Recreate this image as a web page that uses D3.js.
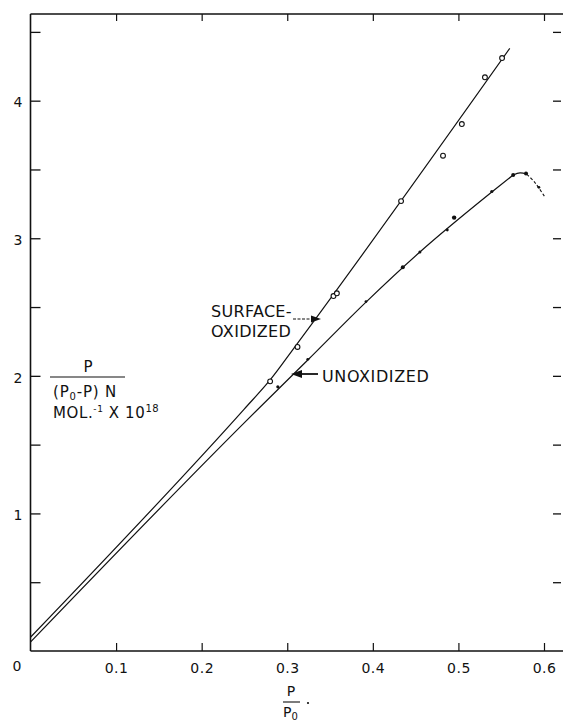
<!DOCTYPE html>
<html>
<head>
<meta charset="utf-8">
<script src="https://cdn.jsdelivr.net/npm/d3@7"></script>
<style>
  body { margin: 0; background: #fff; }
  svg { display: block; }
  text { font-family: "DejaVu Sans", sans-serif; fill: #111; }
</style>
</head>
<body>
<div id="chart"></div>
<script>
// Daten
const surfaceX = [0.280, 0.312, 0.354, 0.358, 0.433, 0.482, 0.504, 0.531, 0.551];
const surfaceY = [1.96, 2.21, 2.58, 2.60, 3.27, 3.60, 3.83, 4.17, 4.31];

const unoxX = [0.289, 0.324, 0.392, 0.435, 0.455, 0.487, 0.495, 0.539, 0.564, 0.579, 0.594];
const unoxY = [1.92, 2.12, 2.54, 2.79, 2.90, 3.06, 3.15, 3.34, 3.46, 3.47, 3.37];
const unoxSize = [1.6, 1.4, 1.4, 2.0, 1.5, 1.4, 2.2, 1.6, 2.0, 2.0, 1.4];

// Ausgleichskurven
const surfaceCurveX = [0, 0.250, 0.280, 0.310, 0.560];
const surfaceCurveY = [0.10, 1.76, 1.97, 2.22, 4.38];
const unoxCurveX = [0, 0.250, 0.324, 0.392, 0.455, 0.539, 0.564];
const unoxCurveY = [0.065, 1.66, 2.115, 2.536, 2.90, 3.336, 3.46];
const unoxTailX = [0.564, 0.572, 0.580, 0.590, 0.601];
const unoxTailY = [3.46, 3.475, 3.465, 3.40, 3.30];

const xTicks = [0.1, 0.2, 0.3, 0.4, 0.5, 0.6];
const yTicks = [0.5, 1, 1.5, 2, 2.5, 3, 3.5, 4, 4.5];

const breite = 563, hoehe = 726;

const svg = d3.select("#chart").append("svg")
  .attr("width", breite).attr("height", hoehe);

const x = d3.scaleLinear().domain([0, 0.6222]).range([30.5, 563]);
const y = d3.scaleLinear().domain([0, 4.63]).range([651, 14]);

// Rahmen
const frame = svg.append("g").attr("stroke", "#111").attr("fill", "none");
frame.append("line").attr("x1", x(0)).attr("x2", x(0)).attr("y1", y(4.63)).attr("y2", y(0)).attr("stroke-width", 1.6);
frame.append("line").attr("x1", x(0)).attr("x2", x(0.6222)).attr("y1", y(0)).attr("y2", y(0)).attr("stroke-width", 1.5);
frame.append("line").attr("x1", x(0)).attr("x2", x(0.6222)).attr("y1", y(4.63)).attr("y2", y(4.63)).attr("stroke-width", 1.6);

// Achsen
const xAxisG = svg.append("g").attr("transform", `translate(0,${y(0)})`)
  .call(d3.axisBottom(x).tickValues(xTicks).tickSizeInner(-8).tickSizeOuter(0).tickPadding(12)
    .tickFormat(d => d.toFixed(1)));
xAxisG.select(".domain").remove();
xAxisG.selectAll("line").attr("stroke", "#111").attr("stroke-width", 1.2);
xAxisG.selectAll("text").style("font-size", "14px").style("letter-spacing", "0.5px")
  .attr("font-family", null).attr("fill", "#111");

const xTopG = svg.append("g").attr("transform", `translate(0,${y(4.63)})`)
  .call(d3.axisTop(x).tickValues(xTicks).tickSizeInner(-7).tickSizeOuter(0).tickFormat(""));
xTopG.select(".domain").remove();
xTopG.selectAll("line").attr("stroke", "#111").attr("stroke-width", 1.2);

const yAxisG = svg.append("g").attr("transform", `translate(${x(0)},0)`)
  .call(d3.axisLeft(y).tickValues(yTicks).tickSizeInner(-10).tickSizeOuter(0).tickPadding(8)
    .tickFormat(d => Number.isInteger(d) ? d : ""));
yAxisG.select(".domain").remove();
yAxisG.selectAll("line").attr("stroke", "#111").attr("stroke-width", 1.3);
yAxisG.selectAll("text").style("font-size", "14px").attr("font-family", null).attr("fill", "#111")
  .attr("dy", "0.45em");

const yRightG = svg.append("g").attr("transform", `translate(${x(0.6222) - 2},0)`)
  .call(d3.axisRight(y).tickValues(yTicks).tickSizeInner(-8).tickSizeOuter(0).tickFormat(""));
yRightG.select(".domain").remove();
yRightG.selectAll("line").attr("stroke", "#111").attr("stroke-width", 1.3);

// Ursprung
svg.append("text").attr("x", 17).attr("y", y(0) + 20).attr("text-anchor", "middle")
  .style("font-size", "14px").text("0");

// Kurven
const line = d3.line().x(d => x(d[0])).y(d => y(d[1])).curve(d3.curveMonotoneX);

svg.append("path")
  .datum(d3.zip(surfaceCurveX, surfaceCurveY))
  .attr("d", line).attr("fill", "none").attr("stroke", "#111").attr("stroke-width", 1.2);

svg.append("path")
  .datum(d3.zip(unoxCurveX, unoxCurveY))
  .attr("d", line).attr("fill", "none").attr("stroke", "#111").attr("stroke-width", 1.2);

const tail = d3.zip(unoxTailX, unoxTailY);
const tailLine = d3.line().x(d => x(d[0])).y(d => y(d[1])).curve(d3.curveCardinal);
svg.append("path")
  .datum(tail.slice(0, 3))
  .attr("d", tailLine).attr("fill", "none").attr("stroke", "#111").attr("stroke-width", 1.2);
svg.append("path")
  .datum(tail.slice(2))
  .attr("d", tailLine).attr("fill", "none").attr("stroke", "#111").attr("stroke-width", 1.1)
  .attr("stroke-dasharray", "3,2");

// Punkte
svg.append("g").selectAll("circle")
  .data(d3.zip(surfaceX, surfaceY))
  .join("circle")
  .attr("cx", d => x(d[0])).attr("cy", d => y(d[1])).attr("r", 2.4)
  .attr("fill", "#fff").attr("stroke", "#111").attr("stroke-width", 1.1);

svg.append("g").selectAll("circle")
  .data(d3.zip(unoxX, unoxY, unoxSize))
  .join("circle")
  .attr("cx", d => x(d[0])).attr("cy", d => y(d[1])).attr("r", d => d[2])
  .attr("fill", "#111");

// Beschriftungen
const labelStyle = sel => sel.style("font-size", "16px").style("letter-spacing", "0.3px");

svg.append("text").attr("x", 211).attr("y", 317).call(labelStyle).text("SURFACE-");
svg.append("text").attr("x", 211).attr("y", 337).call(labelStyle).text("OXIDIZED");
svg.append("line").attr("x1", 293).attr("x2", 313).attr("y1", 319).attr("y2", 319)
  .attr("stroke", "#111").attr("stroke-width", 1.2).attr("stroke-dasharray", "3,1.5");
svg.append("path").attr("d", "M321,319 L311,315.5 L311,322.5 Z").attr("fill", "#111");

svg.append("text").attr("x", 322).attr("y", 382).call(labelStyle).style("letter-spacing", "0.6px").text("UNOXIDIZED");
svg.append("line").attr("x1", 300).attr("x2", 318).attr("y1", 374).attr("y2", 374)
  .attr("stroke", "#111").attr("stroke-width", 1.8);
svg.append("path").attr("d", "M291,374 L302,370 L302,378 Z").attr("fill", "#111");

// Y-Achsentitel
const yt = svg.append("g");
yt.append("text").attr("x", 88).attr("y", 372).attr("text-anchor", "middle")
  .style("font-size", "15px").text("P");
yt.append("line").attr("x1", 50).attr("x2", 125).attr("y1", 377).attr("y2", 377)
  .attr("stroke", "#111").attr("stroke-width", 1.2);
const t2 = yt.append("text").attr("x", 53).attr("y", 397).style("font-size", "15px").style("letter-spacing", "0.8px");
t2.append("tspan").text("(P");
t2.append("tspan").attr("dy", 3).style("font-size", "10px").text("0");
t2.append("tspan").attr("dy", -3).text("-P) N");
const t3 = yt.append("text").attr("x", 53).attr("y", 418).style("font-size", "15px").style("letter-spacing", "0.6px");
t3.append("tspan").text("MOL.");
t3.append("tspan").attr("dy", -6).style("font-size", "9px").text("-1");
t3.append("tspan").attr("dy", 6).text(" X 10");
t3.append("tspan").attr("dy", -6).style("font-size", "10px").text("18");

// X-Achsentitel
const xt = svg.append("g");
xt.append("text").attr("x", 291).attr("y", 696).attr("text-anchor", "middle")
  .style("font-size", "14px").text("P");
xt.append("line").attr("x1", 283).attr("x2", 300).attr("y1", 702).attr("y2", 702)
  .attr("stroke", "#111").attr("stroke-width", 1.1);
const t4 = xt.append("text").attr("x", 283).attr("y", 717).style("font-size", "14px");
t4.append("tspan").text("P");
t4.append("tspan").attr("dy", 3).style("font-size", "10px").text("0");
xt.append("circle").attr("cx", 308).attr("cy", 703).attr("r", 1.1).attr("fill", "#111");
</script>
</body>
</html>
